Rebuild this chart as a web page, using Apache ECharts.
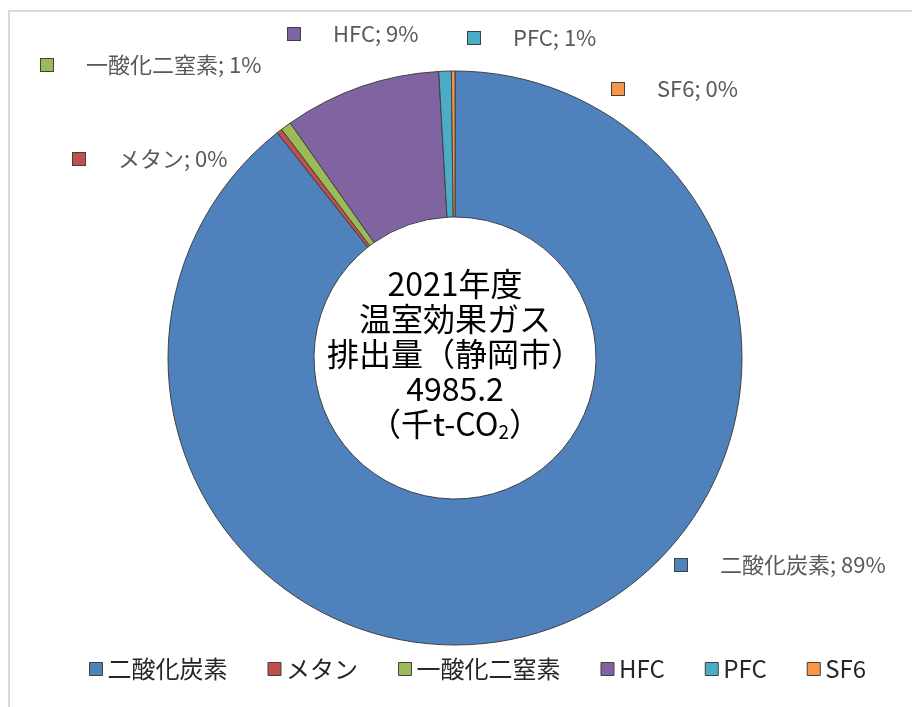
<!DOCTYPE html>
<html><head><meta charset="utf-8">
<script src="https://cdn.jsdelivr.net/npm/echarts@6/dist/echarts.min.js"></script>
<style>html,body{margin:0;padding:0;background:#fff}#c{width:912px;height:707px}</style>
</head><body><div id="c"></div>
<script>
const categories = ['二酸化炭素', 'メタン', '一酸化二窒素', 'HFC', 'PFC', 'SF6'];
const values = [4455.2, 15, 30, 440, 35, 10];
const pctLabels = ['89%', '0%', '1%', '9%', '1%', '0%'];
const colors = ['#4f81bd', '#c0504d', '#9bbb59', '#8064a2', '#4bacc6', '#f79646'];
const centerLines = ['2021年度', '温室効果ガス', '排出量（静岡市）', '4985.2', '（千t-CO{sub|2}）'];

const labelPos = [[675, 565], [73, 159], [41, 65], [288, 34], [468, 38], [612, 89]];
const FONT = '"Noto Sans CJK JP", "Noto Sans", sans-serif';

const rich = { t: { color: '#595959', fontSize: 22, fontFamily: FONT, padding: [0, 0, 0, 33] } };
colors.forEach((c, i) => {
  rich['s' + i] = { width: 12, height: 12, backgroundColor: c, borderColor: '#404040', borderWidth: 1 };
});

const chart = echarts.init(document.getElementById('c'));
chart.setOption({
  animation: false,
  color: colors,
  graphic: [
    { type: 'rect', shape: { x: 9, y: 11, width: 1000, height: 1000 }, style: { fill: 'none', stroke: '#d9d9d9', lineWidth: 2 }, z: -1 },
    { type: 'text', x: 455, y: 354, z: 100,
      style: { text: centerLines.join('\n'), align: 'center', verticalAlign: 'middle', fill: '#000',
        font: '32px ' + FONT, lineHeight: 35,
        rich: { sub: { fontSize: 19, verticalAlign: 'bottom', padding: [14, 0, 0, 0], fontFamily: FONT, fill: '#000' } } } }
  ],
  legend: {
    bottom: 21, left: 84, itemWidth: 13, itemHeight: 13, itemGap: 40,
    icon: 'rect',
    itemStyle: { borderColor: '#404040', borderWidth: 1 },
    textStyle: { fontSize: 24, color: '#262626', fontFamily: FONT, padding: [0, 0, 0, 0] },
    data: categories
  },
  series: [{
    type: 'pie',
    center: [455, 358],
    radius: [141, 287],
    startAngle: 90,
    clockwise: true,
    itemStyle: { borderColor: '#404040', borderWidth: 1 },
    label: {
      show: true, position: 'outside',
      formatter: p => '{s' + p.dataIndex + '|}{t|' + p.name + '; ' + pctLabels[p.dataIndex] + '}',
      rich: rich
    },
    labelLine: { show: false },
    labelLayout: p => ({ x: labelPos[p.dataIndex][0], y: labelPos[p.dataIndex][1], align: 'left', verticalAlign: 'middle', hideOverlap: false, moveOverlap: null }),
    emphasis: { disabled: true },
    data: categories.map((n, i) => ({ name: n, value: values[i] }))
  }]
});
</script></body></html>
